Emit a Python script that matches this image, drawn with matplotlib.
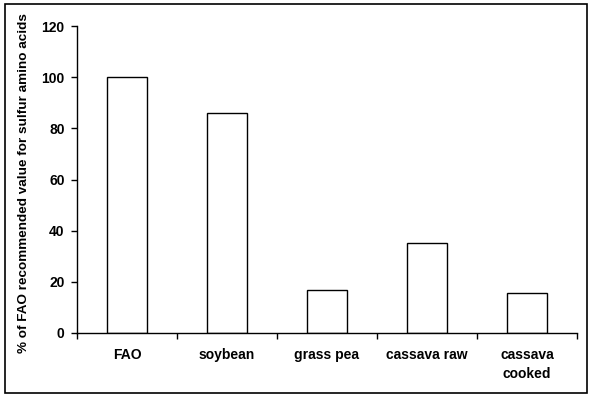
import numpy as np
import matplotlib.pyplot as plt
from matplotlib.patches import Rectangle

# Data
categories = ['FAO', 'soybean', 'grass pea', 'cassava raw', 'cassava\ncooked']
values = [100, 86, 17, 35, 15.5]
yticks = [0, 20, 40, 60, 80, 100, 120]

plt.rcParams['font.family'] = ['Liberation Sans', 'DejaVu Sans']
plt.rcParams['font.weight'] = 'bold'
plt.rcParams['font.size'] = 10

fig = plt.figure(figsize=(5.92, 3.99), dpi=100)
ax = fig.add_axes([77 / 592, 1 - 333 / 399, 500 / 592, (333 - 26) / 399])

x = np.arange(len(categories))
ax.bar(x, values, width=0.4, color='white', edgecolor='black', linewidth=1.0)

ax.set_xlim(-0.5, len(categories) - 0.5)
ax.set_ylim(0, 120)
ax.set_yticks(yticks)
ax.set_xticks(np.arange(len(categories) + 1) - 0.5)
ax.set_xticklabels([])
ax.set_xticks(x, minor=True)
ax.set_xticklabels(categories, minor=True, fontweight='bold', linespacing=1.45)
ax.tick_params(axis='x', which='minor', length=0, pad=11)
ax.tick_params(axis='x', which='major', length=4, width=1, direction='out')
ax.tick_params(axis='y', length=4, width=1, direction='out', pad=5)

for s in ['top', 'right']:
    ax.spines[s].set_visible(False)
for s in ['left', 'bottom']:
    ax.spines[s].set_linewidth(1.0)

fig.text(24 / 592, 1 - 353 / 399, '% of FAO recommended value for sulfur amino acids',
         rotation=90, ha='center', va='bottom', fontweight='bold', fontsize=9.7)

# outer frame
fig.patches.append(Rectangle((5 / 592, 1 - 393 / 399), 582 / 592, 389 / 399,
                             transform=fig.transFigure, fill=False,
                             edgecolor='black', linewidth=1.2))

fig.savefig('out.png', dpi=100)
